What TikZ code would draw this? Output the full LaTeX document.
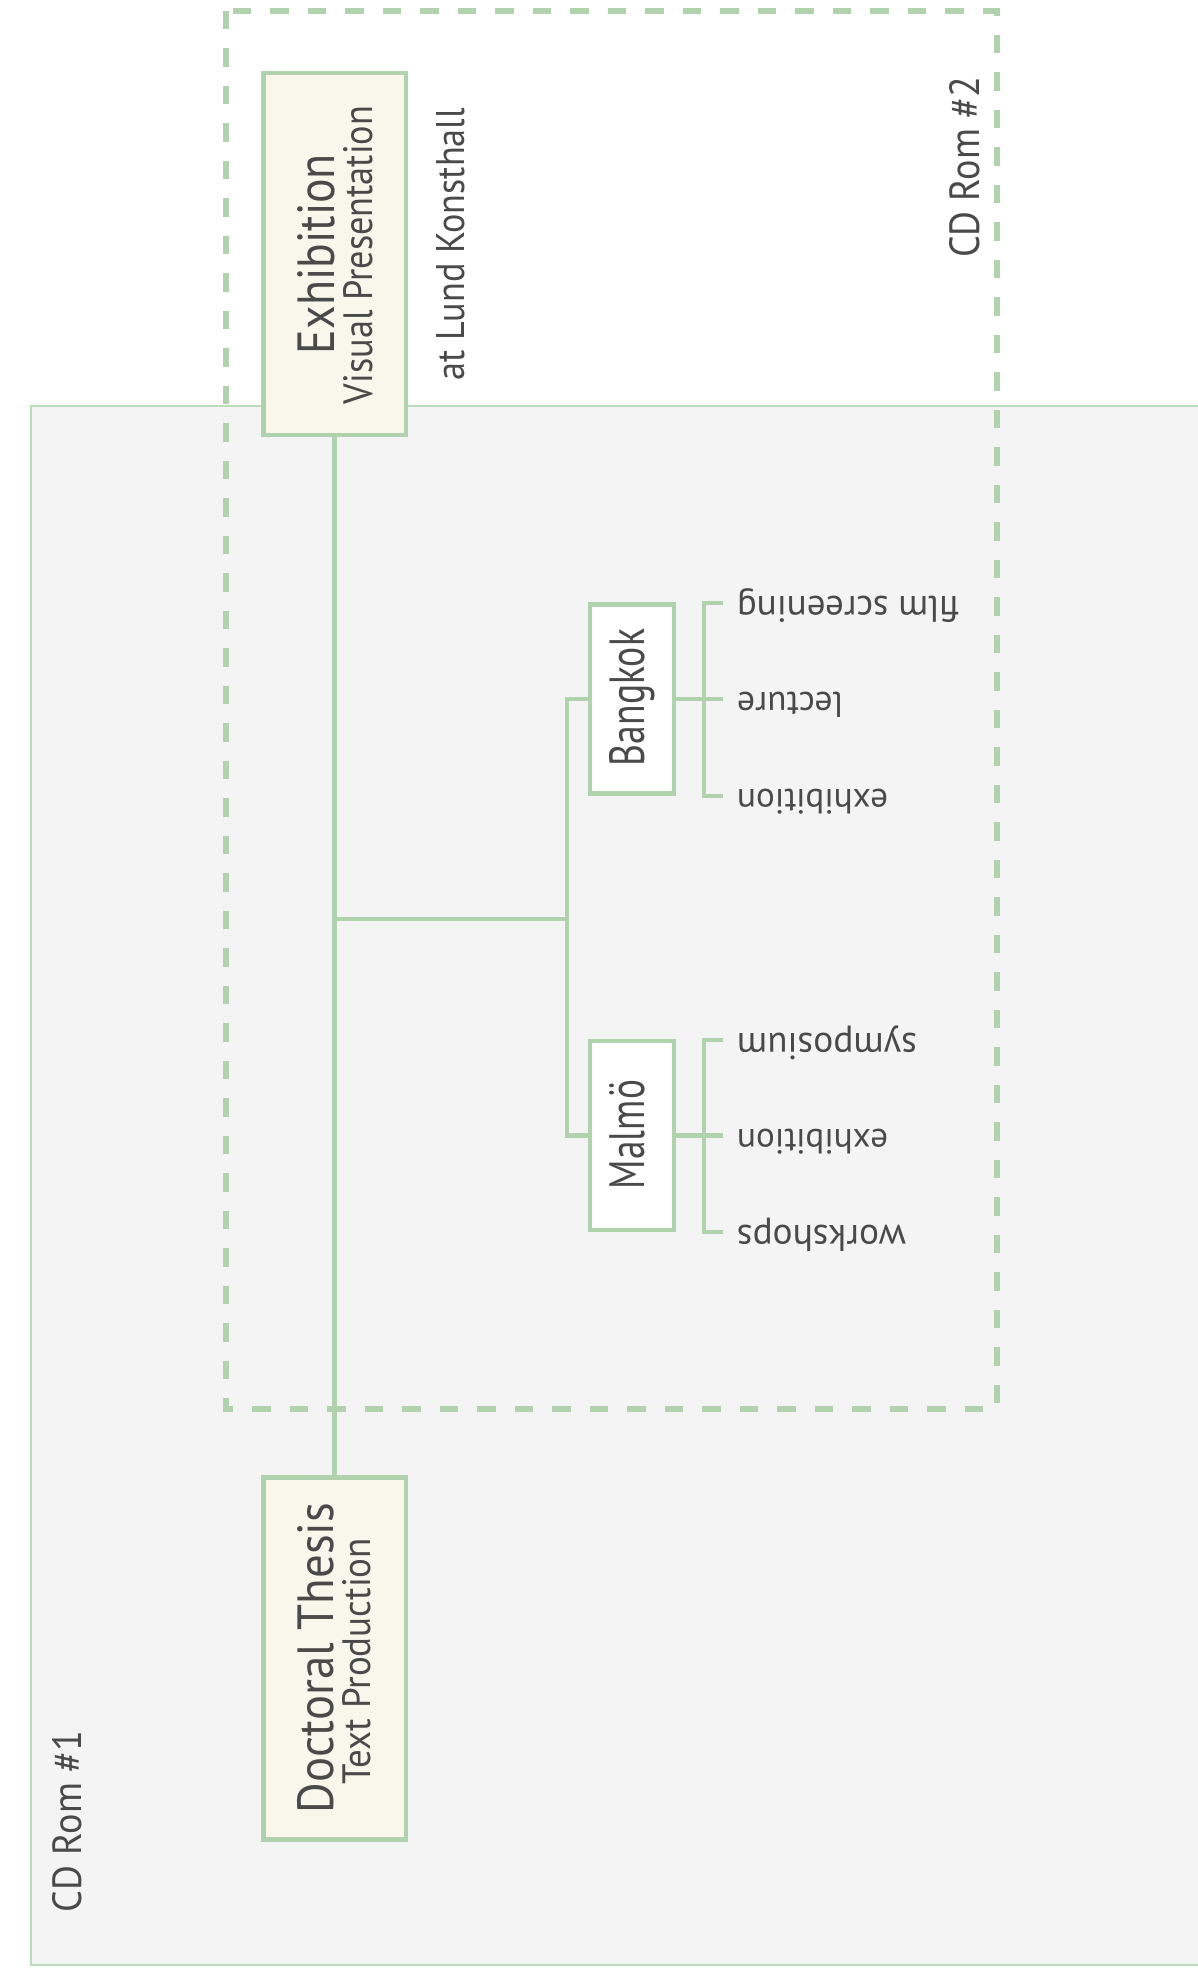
\documentclass[tikz,border=0pt]{standalone}
\usepackage{fontspec}
\setmainfont{PT Sans}
\usepackage{graphicx}
\definecolor{leaf}{HTML}{B0D3AE}
\definecolor{rim}{HTML}{BCDDBA}
\definecolor{paper}{HTML}{F4F4F4}
\definecolor{cream}{HTML}{F9F7EC}
\definecolor{ink}{HTML}{4A4A4A}
% set a text to an exact ink width (and optionally height)
\newcommand{\fitw}[2]{\resizebox{#1pt}{!}{#2}}
\newcommand{\fitwh}[3]{\resizebox{#1pt}{#2pt}{#3}}
\tikzset{
  link/.style={draw=leaf, line width=4.5pt},
  titlebox/.style={draw=leaf, line width=4.5pt, fill=cream, minimum width=142.5pt, minimum height=362pt, inner sep=0pt},
  citybox/.style={draw=leaf, line width=4.5pt, fill=white, minimum width=84pt, minimum height=189pt, inner sep=0pt},
  word/.style={text=ink, inner sep=0pt, outer sep=0pt},
  upword/.style={word, rotate=90, anchor=base},
  flipword/.style={word, rotate=180, anchor=mid east, font=\fontsize{34}{40}\selectfont},
  zone/.style={draw=leaf, line width=6pt, dash pattern=on 18.5pt off 19pt},
  tickend/.style={xshift=-14pt, yshift=-4pt},
}
\begin{document}
\begin{tikzpicture}[x=1pt,y=-1pt]
\useasboundingbox (0,0) rectangle (1198,1969);
\clip (0,0) rectangle (1198,1969);
\fill[white] (0,0) rectangle (1198,1969);

% panel of the first CD-ROM
\draw[draw=rim, line width=2pt, fill=paper] (31,406) rectangle (1215,1965);
% outline of the second CD-ROM
\draw[zone] (225.7,10.7) -- (225.7,1409) -- (996.5,1409) -- (996.5,10.7) -- cycle;

% boxes
\node[titlebox] (exh) at (334.5,254) {};
\node[titlebox] (doc) at (334.5,1658.5) {};
\node[citybox] (bkk) at (632,699) {};
\node[citybox] (mal) at (632,1135.5) {};

% main spine and branch to the two cities
\coordinate (fork) at (567,919);
\coordinate (hub) at (exh.south |- fork);
\draw[link] (exh.south) -- (doc.north);
\draw[link] (hub) -- (fork);
\draw[link] (bkk.west) -| (fork) |- (mal.west);

% box titles
\node[upword] (exhT) at (334,254) {\fitwh{200}{37}{Exhibition}};
\node[upword] (exhS) at (372,255) {\fitwh{298}{29}{Visual Presentation}};
\node[upword] (docT) at (333,1658) {\fitwh{310}{36}{Doctoral Thesis}};
\node[upword] (docS) at (370,1661) {\fitwh{246}{28}{Text Production}};
\node[upword] (bkkT) at (644,697.5) {\fitwh{137}{35}{Bangkok}};
\node[upword] (malT) at (644,1134.5) {\fitwh{109}{35}{Malmö}};

% free labels
\node[upword, anchor=base west] (venue) at (464,380) {\fitwh{272}{28}{at Lund Konsthall}};
\node[upword, anchor=base west] (cd2) at (979,258) {\fitwh{181}{30}{CD Rom \#2}};
\node[upword, anchor=base west] (cd1) at (81,1912) {\fitwh{181}{29}{CD Rom \#1}};

% events in Bangkok
\node[flipword] (b1) at (737,599) {\fitw{222}{film screening}};
\node[flipword] (b2) at (737,695) {\fitw{106}{lecture}};
\node[flipword] (b3) at (737,792) {\fitw{151}{exhibition}};
% events in Malmo
\node[flipword] (m1) at (737,1036) {\fitw{180}{symposium}};
\node[flipword] (m2) at (737,1131.5) {\fitw{151}{exhibition}};
\node[flipword] (m3) at (737,1228) {\fitw{169}{workshops}};

% brackets
\draw[link] (bkk.east) -- ([tickend]b2.mid east);
\draw[link] ([tickend]b1.mid east) -- ++(-19,0) |- ([tickend]b3.mid east);
\draw[link] (mal.east) -- ([tickend]m2.mid east);
\draw[link] ([tickend]m1.mid east) -- ++(-19,0) |- ([tickend]m3.mid east);
\end{tikzpicture}
\end{document}
